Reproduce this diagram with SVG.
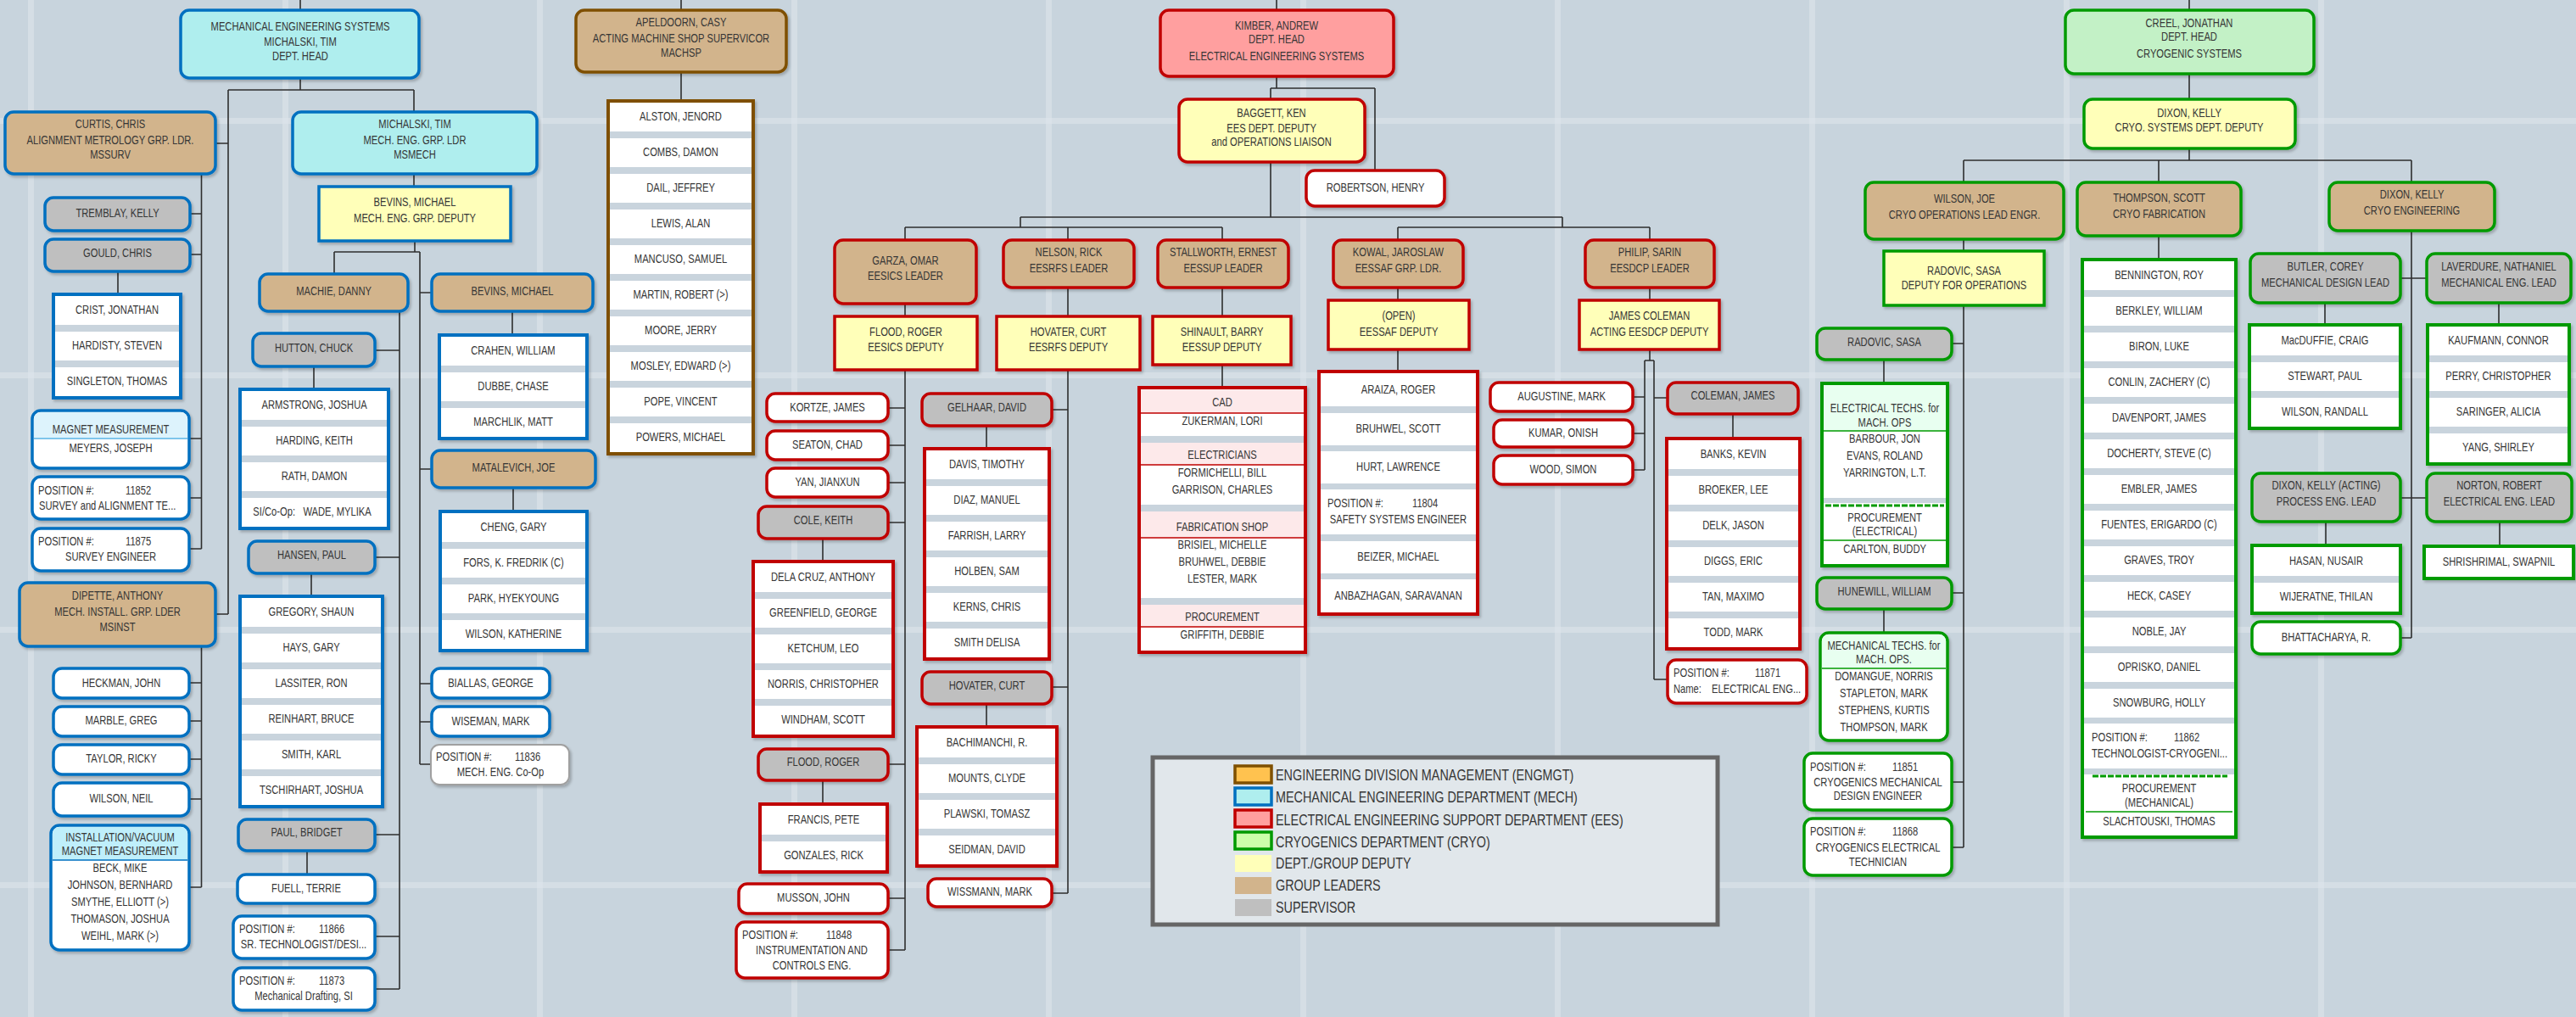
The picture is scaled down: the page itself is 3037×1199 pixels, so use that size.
<svg xmlns="http://www.w3.org/2000/svg" width="3037" height="1199" viewBox="0 0 3037 1199">
<defs>
<filter id="sh" x="-10%" y="-15%" width="125%" height="140%"><feDropShadow dx="2" dy="2.5" stdDeviation="1.5" flood-color="#000" flood-opacity="0.22"/></filter>
<style>
.band{fill:#DDE5EB;opacity:.6}
.c{fill:none;stroke:#2E2E2E;stroke-width:1.6}
.n{stroke-width:3.5;filter:url(#sh)}
.m{stroke:#0070C0}.e{stroke:#C00000}.g{stroke:#009A00}.b{stroke:#7F5000}
.mh{fill:#AFEEEE}.eh{fill:#FF9F9F}.ch{fill:#C3F1C6}.dp{fill:#FFFFB9}.ld{fill:#D2B48C}.sp{fill:#BFBFBF}.w{fill:#FFFFFF}
.ls{fill:#C9D4DD;stroke-width:4;filter:url(#sh)}
.rw{fill:#FFFFFF}
.ph{fill:#FDE9EA}.gh{fill:#E8FFF0}
.dv{fill:none;stroke-width:1.5}
.t{font-family:"Liberation Sans",Arial,sans-serif;font-size:14px;fill:#363636;text-anchor:middle;dominant-baseline:central;transform-box:fill-box;transform-origin:50% 50%;transform:scaleX(.8)}
.l{text-anchor:start;transform-origin:0% 50%}
.lg{font-size:18px;text-anchor:start;transform-origin:0% 50%}
</style>
</defs>
<rect x="0" y="0" width="3037" height="1199" fill="#C8D4DD"/>
<g id="bg-grid">
<rect class="band" x="0" y="139" width="3037" height="7"/><rect class="band" x="0" y="439" width="3037" height="7"/><rect class="band" x="0" y="739" width="3037" height="7"/><rect class="band" x="0" y="1040" width="3037" height="7"/>
<rect class="band" x="33" y="0" width="7" height="1199"/><rect class="band" x="333" y="0" width="7" height="1199"/><rect class="band" x="633" y="0" width="7" height="1199"/><rect class="band" x="933" y="0" width="7" height="1199"/><rect class="band" x="1233" y="0" width="7" height="1199"/><rect class="band" x="1533" y="0" width="7" height="1199"/><rect class="band" x="1833" y="0" width="7" height="1199"/><rect class="band" x="2133" y="0" width="7" height="1199"/><rect class="band" x="2433" y="0" width="7" height="1199"/><rect class="band" x="2733" y="0" width="7" height="1199"/>
</g>
<g id="connectors" class="c">
<path d="M354,0V12M354,92V106M269,106H488M269,106V724M488,106V132M254,169H269M254,724H269M488,205V220M489,284V297M394,297H495M394,297V323M495,297V901M495,345H509M495,553H509M495,806H509M495,851H509M495,901H508"/>
<path d="M471,367V1166M442,413H471M442,657H471M442,984H471M442,1104H471M442,1166H471"/>
<path d="M237.5,205V647M224,252H237.5M224,300H237.5M223,517H237.5M223,587H237.5M223,647H237.5M139,320V347"/>
<path d="M237.5,762V1046M223,805H237.5M223,850H237.5M223,895H237.5M223,942H237.5M223,1046H237.5"/>
<path d="M370,432V459M367,676V703M362,1003V1031M604,367V395M605,575V603"/>
<path d="M803,0V12M803,85V119"/>
<path d="M1505,0V12M1505,90V104M1498,104H1621M1498,104V117M1621,104V201M1498,191V256M1203,256H1842M1203,256V268M1067,268H1441M1067,268V283M1259,268V283M1441,268V283M1842,256V268M1648,268H1945M1648,268V283M1945,268V283"/>
<path d="M1067,358V373M1259,339V373M1441,339V373M1648,339V354M1945,339V354"/>
<path d="M1067,436V1120M1047,481H1067M1047,525H1067M1047,569H1067M1047,616H1067M1047,901H1067M1047,1059H1067M1047,1120H1067M970,635V662M970,920V948"/>
<path d="M1259,436V1053M1240,483H1259M1240,810H1259M1240,1053H1259M1163,502V529M1163,830V857"/>
<path d="M1441,430V457M1648,412V438"/>
<path d="M1945,412V425M1939,425H1950M1939,425V554M1950,425V801M1925,468H1939M1925,511H1939M1925,554H1939M1950,469H1966M1950,801H1966M2043,488V517"/>
<path d="M2581,0V12M2581,87V117M2581,175V189M2315,189H2843M2315,189V215M2545,189V215M2843,189V215"/>
<path d="M2315,282V296M2315,360V999M2301,405H2315M2301,699H2315M2301,922H2315M2301,999H2315M2221,424V452M2221,718V746M2545,278V306"/>
<path d="M2843,272V752M2830,328H2861M2830,587H2861M2830,752H2843M2741,357V383M2946,357V383M2742,615V643M2947,615V644"/>
</g>

<!-- MECH -->
<g id="mes"><rect class="n m mh" x="213" y="12" width="281" height="80" rx="10"/><text class="t" x="354" y="32">MECHANICAL ENGINEERING SYSTEMS</text><text class="t" x="354" y="50">MICHALSKI, TIM</text><text class="t" x="354" y="67">DEPT. HEAD</text></g>
<g id="curtis"><rect class="n m ld" x="6" y="132" width="248" height="73" rx="10"/><text class="t" x="130" y="147">CURTIS, CHRIS</text><text class="t" x="130" y="166">ALIGNMENT METROLOGY GRP. LDR.</text><text class="t" x="130" y="183">MSSURV</text></g>
<g id="michalski"><rect class="n m mh" x="345" y="132" width="288" height="73" rx="10"/><text class="t" x="489" y="147">MICHALSKI, TIM</text><text class="t" x="489" y="166">MECH. ENG. GRP. LDR</text><text class="t" x="489" y="183">MSMECH</text></g>
<g id="bevins-dep"><rect class="n m dp" x="376" y="220" width="226" height="64"/><text class="t" x="489" y="239">BEVINS, MICHAEL</text><text class="t" x="489" y="258">MECH. ENG. GRP. DEPUTY</text></g>
<g id="tremblay"><rect class="n m sp" x="53" y="233" width="171" height="39" rx="10"/><text class="t" x="138.5" y="252">TREMBLAY, KELLY</text></g>
<g id="gould"><rect class="n m sp" x="53" y="282" width="171" height="38" rx="10"/><text class="t" x="138.5" y="299">GOULD, CHRIS</text></g>
<g id="crist-list"><rect class="ls m" x="63" y="347" width="150" height="122"/><rect class="rw" x="65" y="349" width="146" height="34"/><rect class="rw" x="65" y="391" width="146" height="34"/><rect class="rw" x="65" y="433" width="146" height="34"/><text class="t" x="138" y="366">CRIST, JONATHAN</text><text class="t" x="138" y="408">HARDISTY, STEVEN</text><text class="t" x="138" y="450">SINGLETON, THOMAS</text></g>
<g id="magnet"><rect class="n m w" x="38" y="484" width="185" height="68" rx="10"/><rect x="40" y="486" width="181" height="31" rx="8" fill="#DDF3FC"/><rect x="40" y="500" width="181" height="17" fill="#DDF3FC"/><path class="dv" stroke="#5AB4E6" d="M40,517H221"/><text class="t" x="130.5" y="507">MAGNET MEASUREMENT</text><text class="t" x="130.5" y="529">MEYERS, JOSEPH</text></g>
<g id="pos11852"><rect class="n m w" x="38" y="562" width="185" height="50" rx="10"/><text class="t l" x="45" y="579">POSITION #:<tspan x="173.75">11852</tspan></text><text class="t l" x="46" y="597">SURVEY and ALIGNMENT TE...</text></g>
<g id="pos11875"><rect class="n m w" x="38" y="623" width="185" height="50" rx="10"/><text class="t l" x="45" y="639">POSITION #:<tspan x="173.75">11875</tspan></text><text class="t" x="130.5" y="657">SURVEY ENGINEER</text></g>
<g id="dipette"><rect class="n m ld" x="23" y="687" width="231" height="75" rx="10"/><text class="t" x="138.5" y="703">DIPETTE, ANTHONY</text><text class="t" x="138.5" y="722">MECH. INSTALL. GRP. LDER</text><text class="t" x="138.5" y="740">MSINST</text></g>
<g id="heckman"><rect class="n m w" x="63" y="788" width="160" height="35" rx="10"/><text class="t" x="143" y="806">HECKMAN, JOHN</text></g>
<g id="marble"><rect class="n m w" x="63" y="833" width="160" height="35" rx="10"/><text class="t" x="143" y="850">MARBLE, GREG</text></g>
<g id="taylor"><rect class="n m w" x="63" y="878" width="160" height="35" rx="10"/><text class="t" x="143" y="895">TAYLOR, RICKY</text></g>
<g id="wilson-neil"><rect class="n m w" x="63" y="923" width="160" height="39" rx="10"/><text class="t" x="143" y="942">WILSON, NEIL</text></g>
<g id="installation"><rect class="n m w" x="60" y="973" width="163" height="147" rx="10"/><rect x="62" y="975" width="159" height="39" rx="8" fill="#BFEFFB"/><rect x="62" y="995" width="159" height="19" fill="#BFEFFB"/><path class="dv" stroke="#0070C0" d="M62,1014H221"/><text class="t" x="141.5" y="988">INSTALLATION/VACUUM</text><text class="t" x="141.5" y="1004">MAGNET MEASUREMENT</text><text class="t" x="141.5" y="1024">BECK, MIKE</text><text class="t" x="141.5" y="1044">JOHNSON, BERNHARD</text><text class="t" x="141.5" y="1064">SMYTHE, ELLIOTT (&gt;)</text><text class="t" x="141.5" y="1084">THOMASON, JOSHUA</text><text class="t" x="141.5" y="1104">WEIHL, MARK (&gt;)</text></g>
<g id="machie"><rect class="n m ld" x="306" y="323" width="175" height="44" rx="10"/><text class="t" x="393.5" y="344">MACHIE, DANNY</text></g>
<g id="bevins-m"><rect class="n m ld" x="509" y="323" width="190" height="44" rx="10"/><text class="t" x="604" y="344">BEVINS, MICHAEL</text></g>
<g id="hutton"><rect class="n m sp" x="298" y="393" width="144" height="39" rx="10"/><text class="t" x="370" y="411">HUTTON, CHUCK</text></g>
<g id="armstrong-list"><rect class="ls m" x="283" y="459" width="175" height="164"/><rect class="rw" x="285" y="461" width="171" height="34"/><rect class="rw" x="285" y="503" width="171" height="34"/><rect class="rw" x="285" y="545" width="171" height="34"/><rect class="rw" x="285" y="587" width="171" height="34"/><text class="t" x="370.5" y="478">ARMSTRONG, JOSHUA</text><text class="t" x="370.5" y="520">HARDING, KEITH</text><text class="t" x="370.5" y="562">RATH, DAMON</text><text class="t" x="368" y="604">SI/Co-Op:&#160;&#160;&#160;WADE, MYLIKA</text></g>
<g id="hansen"><rect class="n m sp" x="293" y="638" width="149" height="38" rx="10"/><text class="t" x="367.5" y="655">HANSEN, PAUL</text></g>
<g id="gregory-list"><rect class="ls m" x="283" y="703" width="168" height="248"/><rect class="rw" x="285" y="705" width="164" height="34"/><rect class="rw" x="285" y="747" width="164" height="34"/><rect class="rw" x="285" y="789" width="164" height="34"/><rect class="rw" x="285" y="831" width="164" height="34"/><rect class="rw" x="285" y="873" width="164" height="34"/><rect class="rw" x="285" y="915" width="164" height="34"/><text class="t" x="367" y="722">GREGORY, SHAUN</text><text class="t" x="367" y="764">HAYS, GARY</text><text class="t" x="367" y="806">LASSITER, RON</text><text class="t" x="367" y="848">REINHART, BRUCE</text><text class="t" x="367" y="890">SMITH, KARL</text><text class="t" x="367" y="932">TSCHIRHART, JOSHUA</text></g>
<g id="paul"><rect class="n m sp" x="281" y="966" width="161" height="37" rx="10"/><text class="t" x="361.5" y="982">PAUL, BRIDGET</text></g>
<g id="fuell"><rect class="n m w" x="280" y="1031" width="162" height="34" rx="10"/><text class="t" x="361" y="1048">FUELL, TERRIE</text></g>
<g id="pos11866"><rect class="n m w" x="275" y="1080" width="167" height="50" rx="10"/><text class="t l" x="282" y="1096">POSITION #:<tspan x="399.5">11866</tspan></text><text class="t" x="358" y="1114">SR. TECHNOLOGIST/DESI...</text></g>
<g id="pos11873"><rect class="n m w" x="275" y="1141" width="167" height="50" rx="10"/><text class="t l" x="282" y="1157">POSITION #:<tspan x="399.5">11873</tspan></text><text class="t" x="358" y="1175">Mechanical Drafting, SI</text></g>
<g id="crahen-list"><rect class="ls m" x="518" y="395" width="174" height="122"/><rect class="rw" x="520" y="397" width="170" height="34"/><rect class="rw" x="520" y="439" width="170" height="34"/><rect class="rw" x="520" y="481" width="170" height="34"/><text class="t" x="605" y="414">CRAHEN, WILLIAM</text><text class="t" x="605" y="456">DUBBE, CHASE</text><text class="t" x="605" y="498">MARCHLIK, MATT</text></g>
<g id="matalevich"><rect class="n m ld" x="509" y="531" width="193" height="44" rx="10"/><text class="t" x="605.5" y="552">MATALEVICH, JOE</text></g>
<g id="cheng-list"><rect class="ls m" x="519" y="603" width="173" height="164"/><rect class="rw" x="521" y="605" width="169" height="34"/><rect class="rw" x="521" y="647" width="169" height="34"/><rect class="rw" x="521" y="689" width="169" height="34"/><rect class="rw" x="521" y="731" width="169" height="34"/><text class="t" x="605.5" y="622">CHENG, GARY</text><text class="t" x="605.5" y="664">FORS, K. FREDRIK (C)</text><text class="t" x="605.5" y="706">PARK, HYEKYOUNG</text><text class="t" x="605.5" y="748">WILSON, KATHERINE</text></g>
<g id="biallas"><rect class="n m w" x="509" y="788" width="139" height="35" rx="10"/><text class="t" x="578.5" y="806">BIALLAS, GEORGE</text></g>
<g id="wiseman"><rect class="n m w" x="509" y="833" width="139" height="35" rx="10"/><text class="t" x="578.5" y="851">WISEMAN, MARK</text></g>
<g id="pos11836"><rect x="508" y="878" width="163" height="47" rx="10" fill="#FFFFFF" stroke="#A0A0A0" stroke-width="2" filter="url(#sh)"/><text class="t l" x="514" y="893">POSITION #:<tspan x="630.25">11836</tspan></text><text class="t" x="590" y="911">MECH. ENG. Co-Op</text></g>

<!-- ENGMGT -->
<g id="apeldoorn"><rect class="n b ld" x="679" y="12" width="248" height="73" rx="10"/><text class="t" x="803" y="27">APELDOORN, CASY</text><text class="t" x="803" y="46">ACTING MACHINE SHOP SUPERVICOR</text><text class="t" x="803" y="63">MACHSP</text></g>
<g id="alston-list"><rect class="ls b" x="717" y="119" width="171" height="416"/><rect class="rw" x="719" y="121" width="167" height="34"/><rect class="rw" x="719" y="163" width="167" height="34"/><rect class="rw" x="719" y="205" width="167" height="34"/><rect class="rw" x="719" y="247" width="167" height="34"/><rect class="rw" x="719" y="289" width="167" height="34"/><rect class="rw" x="719" y="331" width="167" height="34"/><rect class="rw" x="719" y="373" width="167" height="34"/><rect class="rw" x="719" y="415" width="167" height="34"/><rect class="rw" x="719" y="457" width="167" height="34"/><rect class="rw" x="719" y="499" width="167" height="34"/><text class="t" x="802.5" y="138">ALSTON, JENORD</text><text class="t" x="802.5" y="180">COMBS, DAMON</text><text class="t" x="802.5" y="222">DAIL, JEFFREY</text><text class="t" x="802.5" y="264">LEWIS, ALAN</text><text class="t" x="802.5" y="306">MANCUSO, SAMUEL</text><text class="t" x="802.5" y="348">MARTIN, ROBERT (&gt;)</text><text class="t" x="802.5" y="390">MOORE, JERRY</text><text class="t" x="802.5" y="432">MOSLEY, EDWARD (&gt;)</text><text class="t" x="802.5" y="474">POPE, VINCENT</text><text class="t" x="802.5" y="516">POWERS, MICHAEL</text></g>

<!-- EES -->
<g id="kimber"><rect class="n e eh" x="1368" y="12" width="275" height="78" rx="10"/><text class="t" x="1505" y="31">KIMBER, ANDREW</text><text class="t" x="1505" y="47">DEPT. HEAD</text><text class="t" x="1505" y="67">ELECTRICAL ENGINEERING SYSTEMS</text></g>
<g id="baggett"><rect class="n e dp" x="1390" y="117" width="219" height="74" rx="10"/><text class="t" x="1499" y="134">BAGGETT, KEN</text><text class="t" x="1499" y="152">EES DEPT. DEPUTY</text><text class="t" x="1499" y="168">and OPERATIONS LIAISON</text></g>
<g id="robertson"><rect class="n e w" x="1540" y="201" width="163" height="42" rx="10"/><text class="t" x="1621.5" y="222">ROBERTSON, HENRY</text></g>
<g id="garza"><rect class="n e ld" x="984" y="283" width="167" height="75" rx="10"/><text class="t" x="1067.5" y="308">GARZA, OMAR</text><text class="t" x="1067.5" y="326">EESICS LEADER</text></g>
<g id="nelson"><rect class="n e ld" x="1183" y="283" width="154" height="56" rx="10"/><text class="t" x="1260" y="298">NELSON, RICK</text><text class="t" x="1260" y="317">EESRFS LEADER</text></g>
<g id="stallworth"><rect class="n e ld" x="1365" y="283" width="154" height="56" rx="10"/><text class="t" x="1442" y="298">STALLWORTH, ERNEST</text><text class="t" x="1442" y="317">EESSUP LEADER</text></g>
<g id="kowal"><rect class="n e ld" x="1572" y="283" width="153" height="56" rx="10"/><text class="t" x="1648.5" y="298">KOWAL, JAROSLAW</text><text class="t" x="1648.5" y="317">EESSAF GRP. LDR.</text></g>
<g id="philip"><rect class="n e ld" x="1869" y="283" width="152" height="56" rx="10"/><text class="t" x="1945" y="298">PHILIP, SARIN</text><text class="t" x="1945" y="317">EESDCP LEADER</text></g>
<g id="flood-dep"><rect class="n e dp" x="984" y="373" width="168" height="63"/><text class="t" x="1068" y="392">FLOOD, ROGER</text><text class="t" x="1068" y="410">EESICS DEPUTY</text></g>
<g id="hovater-dep"><rect class="n e dp" x="1175" y="373" width="169" height="63"/><text class="t" x="1259.5" y="392">HOVATER, CURT</text><text class="t" x="1259.5" y="410">EESRFS DEPUTY</text></g>
<g id="shinault"><rect class="n e dp" x="1359" y="373" width="163" height="57"/><text class="t" x="1440.5" y="392">SHINAULT, BARRY</text><text class="t" x="1440.5" y="410">EESSUP DEPUTY</text></g>
<g id="open-dep"><rect class="n e dp" x="1566" y="354" width="166" height="58"/><text class="t" x="1649" y="373">(OPEN)</text><text class="t" x="1649" y="392">EESSAF DEPUTY</text></g>
<g id="jcoleman-dep"><rect class="n e dp" x="1862" y="354" width="165" height="58"/><text class="t" x="1944.5" y="373">JAMES COLEMAN</text><text class="t" x="1944.5" y="392">ACTING EESDCP DEPUTY</text></g>
<g id="kortze"><rect class="n e w" x="904" y="464" width="143" height="33" rx="10"/><text class="t" x="975.5" y="481">KORTZE, JAMES</text></g>
<g id="seaton"><rect class="n e w" x="904" y="508" width="143" height="34" rx="10"/><text class="t" x="975.5" y="525">SEATON, CHAD</text></g>
<g id="yan"><rect class="n e w" x="904" y="552" width="143" height="34" rx="10"/><text class="t" x="975.5" y="569">YAN, JIANXUN</text></g>
<g id="cole"><rect class="n e sp" x="894" y="597" width="153" height="38" rx="10"/><text class="t" x="970.5" y="614">COLE, KEITH</text></g>
<g id="delacruz-list"><rect class="ls e" x="888" y="662" width="165" height="206"/><rect class="rw" x="890" y="664" width="161" height="34"/><rect class="rw" x="890" y="706" width="161" height="34"/><rect class="rw" x="890" y="748" width="161" height="34"/><rect class="rw" x="890" y="790" width="161" height="34"/><rect class="rw" x="890" y="832" width="161" height="34"/><text class="t" x="970.5" y="681">DELA CRUZ, ANTHONY</text><text class="t" x="970.5" y="723">GREENFIELD, GEORGE</text><text class="t" x="970.5" y="765">KETCHUM, LEO</text><text class="t" x="970.5" y="807">NORRIS, CHRISTOPHER</text><text class="t" x="970.5" y="849">WINDHAM, SCOTT</text></g>
<g id="flood"><rect class="n e sp" x="894" y="883" width="153" height="37" rx="10"/><text class="t" x="970.5" y="899">FLOOD, ROGER</text></g>
<g id="francis-list"><rect class="ls e" x="896" y="948" width="150" height="80"/><rect class="rw" x="898" y="950" width="146" height="34"/><rect class="rw" x="898" y="992" width="146" height="34"/><text class="t" x="971" y="967">FRANCIS, PETE</text><text class="t" x="971" y="1009">GONZALES, RICK</text></g>
<g id="musson"><rect class="n e w" x="871" y="1042" width="176" height="35" rx="10"/><text class="t" x="959" y="1059">MUSSON, JOHN</text></g>
<g id="pos11848"><rect class="n e w" x="868" y="1087" width="179" height="66" rx="10"/><text class="t l" x="875" y="1103">POSITION #:<tspan x="998.75">11848</tspan></text><text class="t" x="957" y="1121">INSTRUMENTATION AND</text><text class="t" x="957" y="1139">CONTROLS ENG.</text></g>
<g id="gelhaar"><rect class="n e sp" x="1087" y="464" width="153" height="38" rx="10"/><text class="t" x="1163.5" y="481">GELHAAR, DAVID</text></g>
<g id="davis-list"><rect class="ls e" x="1090" y="529" width="147" height="248"/><rect class="rw" x="1092" y="531" width="143" height="34"/><rect class="rw" x="1092" y="573" width="143" height="34"/><rect class="rw" x="1092" y="615" width="143" height="34"/><rect class="rw" x="1092" y="657" width="143" height="34"/><rect class="rw" x="1092" y="699" width="143" height="34"/><rect class="rw" x="1092" y="741" width="143" height="34"/><text class="t" x="1163.5" y="548">DAVIS, TIMOTHY</text><text class="t" x="1163.5" y="590">DIAZ, MANUEL</text><text class="t" x="1163.5" y="632">FARRISH, LARRY</text><text class="t" x="1163.5" y="674">HOLBEN, SAM</text><text class="t" x="1163.5" y="716">KERNS, CHRIS</text><text class="t" x="1163.5" y="758">SMITH DELISA</text></g>
<g id="hovater"><rect class="n e sp" x="1087" y="792" width="153" height="38" rx="10"/><text class="t" x="1163.5" y="809">HOVATER, CURT</text></g>
<g id="bach-list"><rect class="ls e" x="1081" y="857" width="165" height="164"/><rect class="rw" x="1083" y="859" width="161" height="34"/><rect class="rw" x="1083" y="901" width="161" height="34"/><rect class="rw" x="1083" y="943" width="161" height="34"/><rect class="rw" x="1083" y="985" width="161" height="34"/><text class="t" x="1163.5" y="876">BACHIMANCHI, R.</text><text class="t" x="1163.5" y="918">MOUNTS, CLYDE</text><text class="t" x="1163.5" y="960">PLAWSKI, TOMASZ</text><text class="t" x="1163.5" y="1002">SEIDMAN, DAVID</text></g>
<g id="wissmann"><rect class="n e w" x="1094" y="1036" width="146" height="33" rx="10"/><text class="t" x="1167" y="1052">WISSMANN, MARK</text></g>
<g id="cad-list"><rect class="ls e" x="1343" y="457" width="196" height="312"/><rect class="rw" x="1345" y="459" width="192" height="55"/><rect class="rw" x="1345" y="522" width="192" height="73"/><rect class="rw" x="1345" y="603" width="192" height="102"/><rect class="rw" x="1345" y="713" width="192" height="54"/><rect class="ph" x="1345" y="459" width="192" height="28"/><rect class="ph" x="1345" y="522" width="192" height="26"/><rect class="ph" x="1345" y="603" width="192" height="31"/><rect class="ph" x="1345" y="713" width="192" height="26"/><path class="dv" stroke="#C00000" d="M1345,487H1537M1345,548H1537M1345,634H1537M1345,739H1537"/><text class="t" x="1441" y="475">CAD</text><text class="t" x="1441" y="497">ZUKERMAN, LORI</text><text class="t" x="1441" y="537">ELECTRICIANS</text><text class="t" x="1441" y="558">FORMICHELLI, BILL</text><text class="t" x="1441" y="578">GARRISON, CHARLES</text><text class="t" x="1441" y="622">FABRICATION SHOP</text><text class="t" x="1441" y="643">BRISIEL, MICHELLE</text><text class="t" x="1441" y="663">BRUHWEL, DEBBIE</text><text class="t" x="1441" y="683">LESTER, MARK</text><text class="t" x="1441" y="728">PROCUREMENT</text><text class="t" x="1441" y="749">GRIFFITH, DEBBIE</text></g>
<g id="araiza-list"><rect class="ls e" x="1555" y="438" width="187" height="286"/><rect class="rw" x="1557" y="440" width="183" height="39"/><rect class="rw" x="1557" y="487" width="183" height="38"/><rect class="rw" x="1557" y="532" width="183" height="38"/><rect class="rw" x="1557" y="577" width="183" height="53"/><rect class="rw" x="1557" y="638" width="183" height="38"/><rect class="rw" x="1557" y="683" width="183" height="39"/><text class="t" x="1648.5" y="460">ARAIZA, ROGER</text><text class="t" x="1648.5" y="506">BRUHWEL, SCOTT</text><text class="t" x="1648.5" y="551">HURT, LAWRENCE</text><text class="t l" x="1565" y="594">POSITION #:<tspan x="1690">11804</tspan></text><text class="t" x="1648.5" y="613">SAFETY SYSTEMS ENGINEER</text><text class="t" x="1648.5" y="657">BEIZER, MICHAEL</text><text class="t" x="1648.5" y="703">ANBAZHAGAN, SARAVANAN</text></g>
<g id="augustine"><rect class="n e w" x="1757" y="451" width="168" height="34" rx="10"/><text class="t" x="1841" y="468">AUGUSTINE, MARK</text></g>
<g id="kumar"><rect class="n e w" x="1761" y="495" width="164" height="32" rx="10"/><text class="t" x="1843" y="511">KUMAR, ONISH</text></g>
<g id="wood"><rect class="n e w" x="1761" y="537" width="164" height="34" rx="10"/><text class="t" x="1843" y="554">WOOD, SIMON</text></g>
<g id="coleman"><rect class="n e sp" x="1966" y="451" width="154" height="37" rx="10"/><text class="t" x="2043" y="467">COLEMAN, JAMES</text></g>
<g id="banks-list"><rect class="ls e" x="1965" y="517" width="157" height="248"/><rect class="rw" x="1967" y="519" width="153" height="34"/><rect class="rw" x="1967" y="561" width="153" height="34"/><rect class="rw" x="1967" y="603" width="153" height="34"/><rect class="rw" x="1967" y="645" width="153" height="34"/><rect class="rw" x="1967" y="687" width="153" height="34"/><rect class="rw" x="1967" y="729" width="153" height="34"/><text class="t" x="2043.5" y="536">BANKS, KEVIN</text><text class="t" x="2043.5" y="578">BROEKER, LEE</text><text class="t" x="2043.5" y="620">DELK, JASON</text><text class="t" x="2043.5" y="662">DIGGS, ERIC</text><text class="t" x="2043.5" y="704">TAN, MAXIMO</text><text class="t" x="2043.5" y="746">TODD, MARK</text></g>
<g id="pos11871"><rect class="n e w" x="1966" y="778" width="164" height="51" rx="10"/><text class="t l" x="1973" y="794">POSITION #:<tspan x="2093">11871</tspan></text><text class="t l" x="1973" y="813">Name:<tspan x="2029.25">ELECTRICAL ENG...</tspan></text></g>

<!-- CRYO -->
<g id="creel"><rect class="n g ch" x="2435" y="12" width="293" height="75" rx="10"/><text class="t" x="2581" y="28">CREEL, JONATHAN</text><text class="t" x="2581" y="44">DEPT. HEAD</text><text class="t" x="2581" y="64">CRYOGENIC SYSTEMS</text></g>
<g id="dixon-dep"><rect class="n g dp" x="2457" y="117" width="249" height="58" rx="10"/><text class="t" x="2581" y="134">DIXON, KELLY</text><text class="t" x="2581" y="151">CRYO. SYSTEMS DEPT. DEPUTY</text></g>
<g id="wilson-joe"><rect class="n g ld" x="2199" y="215" width="234" height="67" rx="10"/><text class="t" x="2316" y="235">WILSON, JOE</text><text class="t" x="2316" y="254">CRYO OPERATIONS LEAD ENGR.</text></g>
<g id="thompson"><rect class="n g ld" x="2449" y="215" width="193" height="63" rx="10"/><text class="t" x="2545.5" y="234">THOMPSON, SCOTT</text><text class="t" x="2545.5" y="253">CRYO FABRICATION</text></g>
<g id="dixon-eng"><rect class="n g ld" x="2746" y="215" width="195" height="57" rx="10"/><text class="t" x="2843.5" y="230">DIXON, KELLY</text><text class="t" x="2843.5" y="249">CRYO ENGINEERING</text></g>
<g id="radovic-dep"><rect class="n g dp" x="2221" y="296" width="189" height="64"/><text class="t" x="2315.5" y="320">RADOVIC, SASA</text><text class="t" x="2315.5" y="337">DEPUTY FOR OPERATIONS</text></g>
<g id="radovic"><rect class="n g sp" x="2142" y="387" width="159" height="37" rx="10"/><text class="t" x="2221.5" y="404">RADOVIC, SASA</text></g>
<g id="eltech"><rect class="ls g" x="2148" y="452" width="148" height="215"/><rect class="rw" x="2150" y="454" width="144" height="133"/><rect class="rw" x="2150" y="593" width="144" height="72"/><rect class="gh" x="2150" y="454" width="144" height="54"/><path class="dv" stroke="#009A00" d="M2150,508H2294M2150,637H2294"/><path fill="none" stroke="#009A00" stroke-width="3" stroke-dasharray="7,2" d="M2152,596H2292"/><text class="t" x="2222" y="482">ELECTRICAL TECHS. for</text><text class="t" x="2222" y="499">MACH. OPS</text><text class="t" x="2222" y="518">BARBOUR, JON</text><text class="t" x="2222" y="538">EVANS, ROLAND</text><text class="t" x="2222" y="558">YARRINGTON, L.T.</text><text class="t" x="2222" y="611">PROCUREMENT</text><text class="t" x="2222" y="627">(ELECTRICAL)</text><text class="t" x="2222" y="648">CARLTON, BUDDY</text></g>
<g id="hunewill"><rect class="n g sp" x="2142" y="681" width="159" height="37" rx="10"/><text class="t" x="2221.5" y="698">HUNEWILL, WILLIAM</text></g>
<g id="mechtech"><rect class="n g w" x="2146" y="746" width="150" height="127" rx="10"/><rect class="gh" x="2148" y="748" width="146" height="40" rx="8"/><rect class="gh" x="2148" y="768" width="146" height="20"/><path class="dv" stroke="#009A00" d="M2148,788H2294"/><text class="t" x="2221" y="762">MECHANICAL TECHS. for</text><text class="t" x="2221" y="778">MACH. OPS.</text><text class="t" x="2221" y="798">DOMANGUE, NORRIS</text><text class="t" x="2221" y="818">STAPLETON, MARK</text><text class="t" x="2221" y="838">STEPHENS, KURTIS</text><text class="t" x="2221" y="858">THOMPSON, MARK</text></g>
<g id="pos11851"><rect class="n g w" x="2127" y="888" width="174" height="67" rx="10"/><text class="t l" x="2134" y="905">POSITION #:<tspan x="2255.25">11851</tspan></text><text class="t" x="2214" y="923">CRYOGENICS MECHANICAL</text><text class="t" x="2214" y="939">DESIGN ENGINEER</text></g>
<g id="pos11868"><rect class="n g w" x="2127" y="965" width="174" height="67" rx="10"/><text class="t l" x="2134" y="981">POSITION #:<tspan x="2255.25">11868</tspan></text><text class="t" x="2214" y="1000">CRYOGENICS ELECTRICAL</text><text class="t" x="2214" y="1017">TECHNICIAN</text></g>
<g id="thompson-list"><rect class="ls g" x="2455" y="306" width="181" height="681"/>
<rect class="rw" x="2457" y="308" width="177" height="34"/><rect class="rw" x="2457" y="350" width="177" height="34"/><rect class="rw" x="2457" y="392" width="177" height="34"/><rect class="rw" x="2457" y="434" width="177" height="34"/><rect class="rw" x="2457" y="476" width="177" height="34"/><rect class="rw" x="2457" y="518" width="177" height="34"/><rect class="rw" x="2457" y="560" width="177" height="34"/><rect class="rw" x="2457" y="602" width="177" height="34"/><rect class="rw" x="2457" y="644" width="177" height="34"/><rect class="rw" x="2457" y="686" width="177" height="34"/><rect class="rw" x="2457" y="728" width="177" height="34"/><rect class="rw" x="2457" y="770" width="177" height="34"/><rect class="rw" x="2457" y="812" width="177" height="34"/><rect class="rw" x="2457" y="853" width="177" height="53"/><rect class="rw" x="2457" y="913" width="177" height="72"/>
<path fill="none" stroke="#009A00" stroke-width="3" stroke-dasharray="7,2" d="M2467,915H2626"/><path class="dv" stroke="#009A00" d="M2459,957H2632"/>
<text class="t" x="2545.5" y="325">BENNINGTON, ROY</text><text class="t" x="2545.5" y="367">BERKLEY, WILLIAM</text><text class="t" x="2545.5" y="409">BIRON, LUKE</text><text class="t" x="2545.5" y="451">CONLIN, ZACHERY (C)</text><text class="t" x="2545.5" y="493">DAVENPORT, JAMES</text><text class="t" x="2545.5" y="535">DOCHERTY, STEVE (C)</text><text class="t" x="2545.5" y="577">EMBLER, JAMES</text><text class="t" x="2545.5" y="619">FUENTES, ERIGARDO (C)</text><text class="t" x="2545.5" y="661">GRAVES, TROY</text><text class="t" x="2545.5" y="703">HECK, CASEY</text><text class="t" x="2545.5" y="745">NOBLE, JAY</text><text class="t" x="2545.5" y="787">OPRISKO, DANIEL</text><text class="t" x="2545.5" y="829">SNOWBURG, HOLLY</text><text class="t l" x="2466" y="870">POSITION #:<tspan x="2587.25">11862</tspan></text><text class="t l" x="2466" y="889">TECHNOLOGIST-CRYOGENI...</text><text class="t" x="2545.5" y="930">PROCUREMENT</text><text class="t" x="2545.5" y="947">(MECHANICAL)</text><text class="t" x="2545.5" y="969">SLACHTOUSKI, THOMAS</text></g>
<g id="butler"><rect class="n g sp" x="2653" y="299" width="177" height="58" rx="10"/><text class="t" x="2741.5" y="315">BUTLER, COREY</text><text class="t" x="2741.5" y="334">MECHANICAL DESIGN LEAD</text></g>
<g id="laverdure"><rect class="n g sp" x="2861" y="299" width="170" height="58" rx="10"/><text class="t" x="2946" y="315">LAVERDURE, NATHANIEL</text><text class="t" x="2946" y="334">MECHANICAL ENG. LEAD</text></g>
<g id="macduffie-list"><rect class="ls g" x="2652" y="383" width="178" height="122"/><rect class="rw" x="2654" y="385" width="174" height="34"/><rect class="rw" x="2654" y="427" width="174" height="34"/><rect class="rw" x="2654" y="469" width="174" height="34"/><text class="t" x="2741" y="402">MacDUFFIE, CRAIG</text><text class="t" x="2741" y="444">STEWART, PAUL</text><text class="t" x="2741" y="486">WILSON, RANDALL</text></g>
<g id="kaufmann-list"><rect class="ls g" x="2862" y="383" width="167" height="164"/><rect class="rw" x="2864" y="385" width="163" height="34"/><rect class="rw" x="2864" y="427" width="163" height="34"/><rect class="rw" x="2864" y="469" width="163" height="34"/><rect class="rw" x="2864" y="511" width="163" height="34"/><text class="t" x="2945.5" y="402">KAUFMANN, CONNOR</text><text class="t" x="2945.5" y="444">PERRY, CHRISTOPHER</text><text class="t" x="2945.5" y="486">SARINGER, ALICIA</text><text class="t" x="2945.5" y="528">YANG, SHIRLEY</text></g>
<g id="dixon-act"><rect class="n g sp" x="2655" y="558" width="175" height="57" rx="10"/><text class="t" x="2742.5" y="573">DIXON, KELLY (ACTING)</text><text class="t" x="2742.5" y="592">PROCESS ENG. LEAD</text></g>
<g id="norton"><rect class="n g sp" x="2861" y="558" width="171" height="57" rx="10"/><text class="t" x="2946.5" y="573">NORTON, ROBERT</text><text class="t" x="2946.5" y="592">ELECTRICAL ENG. LEAD</text></g>
<g id="hasan-list"><rect class="ls g" x="2655" y="643" width="175" height="80"/><rect class="rw" x="2657" y="645" width="171" height="34"/><rect class="rw" x="2657" y="687" width="171" height="34"/><text class="t" x="2742.5" y="662">HASAN, NUSAIR</text><text class="t" x="2742.5" y="704">WIJERATNE, THILAN</text></g>
<g id="shrishrimal"><rect class="ls g" x="2858" y="644" width="176" height="38"/><rect class="rw" x="2860" y="646" width="172" height="34"/><text class="t" x="2946" y="663">SHRISHRIMAL, SWAPNIL</text></g>
<g id="bhattacharya"><rect class="n g w" x="2655" y="733" width="175" height="38" rx="10"/><text class="t" x="2742.5" y="752">BHATTACHARYA, R.</text></g>

<!-- LEGEND -->
<g id="legend">
<rect x="1359" y="893" width="666" height="197" fill="#E1E7EB" stroke="#666666" stroke-width="5"/>
<rect x="1456" y="903" width="43" height="20" fill="#FFC24F" stroke="#7F5000" stroke-width="3.5"/>
<rect x="1456" y="929" width="43" height="20" fill="#AFEEEE" stroke="#0070C0" stroke-width="3.5"/>
<rect x="1456" y="955" width="43" height="20" fill="#FF9F9F" stroke="#C00000" stroke-width="3.5"/>
<rect x="1456" y="981" width="43" height="20" fill="#CCFFAA" stroke="#009A00" stroke-width="3.5"/>
<rect x="1456" y="1008" width="43" height="20" fill="#FFFFB9"/>
<rect x="1456" y="1034" width="43" height="20" fill="#D2B48C"/>
<rect x="1456" y="1060" width="43" height="20" fill="#BFBFBF"/>
<text class="t lg" x="1504" y="913">ENGINEERING DIVISION MANAGEMENT (ENGMGT)</text>
<text class="t lg" x="1504" y="939">MECHANICAL ENGINEERING DEPARTMENT (MECH)</text>
<text class="t lg" x="1504" y="966">ELECTRICAL ENGINEERING SUPPORT DEPARTMENT (EES)</text>
<text class="t lg" x="1504" y="992">CRYOGENICS DEPARTMENT (CRYO)</text>
<text class="t lg" x="1504" y="1017">DEPT./GROUP DEPUTY</text>
<text class="t lg" x="1504" y="1043">GROUP LEADERS</text>
<text class="t lg" x="1504" y="1069">SUPERVISOR</text>
</g>
</svg>
